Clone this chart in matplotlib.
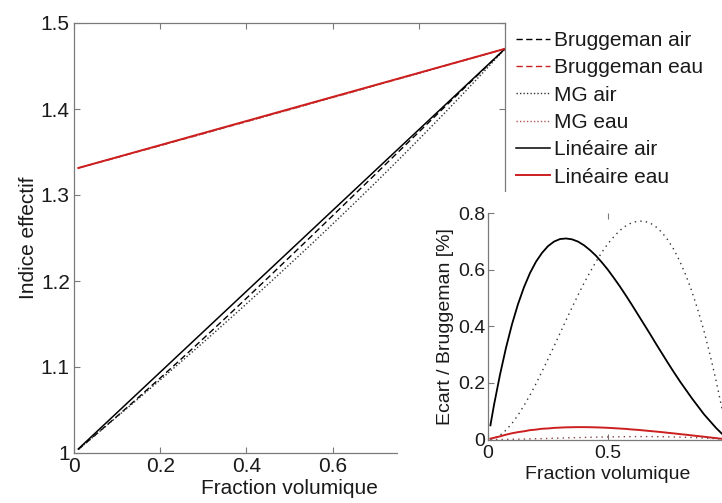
import matplotlib
matplotlib.use("Agg")
import matplotlib.pyplot as plt
from matplotlib.patches import Rectangle

plt.rcParams['font.family'] = ['Liberation Sans', 'DejaVu Sans']

# Volume fraction grid (main plot)
frac = [0.01, 0.05, 0.10, 0.15, 0.20, 0.25, 0.30, 0.35, 0.40, 0.45, 0.50,
        0.55, 0.60, 0.65, 0.70, 0.75, 0.80, 0.85, 0.90, 0.95, 1.00]

# Effective index (main plot)
bruggeman_air = [1.0042, 1.0212, 1.0428, 1.0648, 1.0872, 1.1099, 1.1330, 1.1563, 1.1799, 1.2037, 1.2277,
                 1.2517, 1.2759, 1.3002, 1.3245, 1.3489, 1.3732, 1.3975, 1.4217, 1.4459, 1.4700]
bruggeman_eau = [1.3314, 1.3369, 1.3437, 1.3506, 1.3575, 1.3645, 1.3714, 1.3784, 1.3854, 1.3924, 1.3994,
                 1.4065, 1.4135, 1.4205, 1.4276, 1.4347, 1.4417, 1.4488, 1.4559, 1.4629, 1.4700]
mg_air = [1.0042, 1.0210, 1.0422, 1.0635, 1.0850, 1.1068, 1.1287, 1.1509, 1.1734, 1.1961, 1.2192,
          1.2425, 1.2662, 1.2902, 1.3146, 1.3394, 1.3646, 1.3902, 1.4163, 1.4429, 1.4700]
mg_eau = [1.3314, 1.3369, 1.3437, 1.3506, 1.3574, 1.3643, 1.3712, 1.3782, 1.3852, 1.3921, 1.3991,
          1.4062, 1.4132, 1.4202, 1.4273, 1.4344, 1.4415, 1.4486, 1.4557, 1.4629, 1.4700]
lineaire_air = [1.0047, 1.0235, 1.0470, 1.0705, 1.0940, 1.1175, 1.1410, 1.1645, 1.1880, 1.2115, 1.2350,
                1.2585, 1.2820, 1.3055, 1.3290, 1.3525, 1.3760, 1.3995, 1.4230, 1.4465, 1.4700]
lineaire_eau = [1.3314, 1.3370, 1.3440, 1.3510, 1.3580, 1.3650, 1.3720, 1.3790, 1.3860, 1.3930, 1.4000,
                1.4070, 1.4140, 1.4210, 1.4280, 1.4350, 1.4420, 1.4490, 1.4560, 1.4630, 1.4700]

# Volume fraction grid (inset)
frac_in = [0.01, 0.025, 0.05, 0.075, 0.10, 0.125, 0.15, 0.175, 0.20, 0.225, 0.25, 0.275, 0.30, 0.325,
           0.35, 0.375, 0.40, 0.425, 0.45, 0.475, 0.50, 0.525, 0.55, 0.575, 0.60, 0.625, 0.65, 0.675,
           0.70, 0.725, 0.75, 0.775, 0.80, 0.825, 0.85, 0.875, 0.90, 0.925, 0.95, 0.975, 1.00]

# Deviation relative to Bruggeman [%] (inset)
ecart_lin_air = [0.050, 0.122, 0.229, 0.324, 0.407, 0.478, 0.538, 0.588, 0.628, 0.659, 0.683, 0.699,
                 0.708, 0.710, 0.707, 0.699, 0.686, 0.669, 0.649, 0.625, 0.599, 0.570, 0.540, 0.508,
                 0.475, 0.441, 0.407, 0.373, 0.338, 0.304, 0.270, 0.237, 0.205, 0.175, 0.145, 0.117,
                 0.089, 0.065, 0.041, 0.020, 0.000]
ecart_mg_air = [0.001, 0.004, 0.015, 0.033, 0.057, 0.086, 0.120, 0.157, 0.197, 0.240, 0.284, 0.329,
                0.375, 0.421, 0.466, 0.510, 0.552, 0.591, 0.628, 0.662, 0.692, 0.717, 0.739, 0.755,
                0.766, 0.771, 0.771, 0.765, 0.751, 0.731, 0.704, 0.670, 0.628, 0.579, 0.522, 0.456,
                0.383, 0.300, 0.209, 0.109, 0.000]
ecart_lin_eau = [0.003, 0.006, 0.011, 0.017, 0.022, 0.026, 0.029, 0.033, 0.035, 0.038, 0.039, 0.041,
                 0.042, 0.043, 0.0434, 0.0437, 0.0437, 0.0434, 0.0429, 0.0422, 0.0412, 0.040, 0.0386,
                 0.0374, 0.0354, 0.034, 0.0319, 0.030, 0.028, 0.026, 0.0236, 0.0215, 0.019, 0.0169,
                 0.0144, 0.0121, 0.0097, 0.0072, 0.0049, 0.0024, 0.000]
ecart_mg_eau = [0.0000, 0.0001, 0.0002, 0.0005, 0.0008, 0.0012, 0.0016, 0.0021, 0.0027, 0.0032, 0.0038,
                0.0044, 0.0050, 0.0056, 0.0062, 0.0068, 0.0074, 0.0079, 0.0084, 0.0088, 0.0092, 0.0095,
                0.0098, 0.0100, 0.0102, 0.0103, 0.0103, 0.0102, 0.0100, 0.0097, 0.0094, 0.0089, 0.0084,
                0.0077, 0.0070, 0.0061, 0.0051, 0.0040, 0.0028, 0.0015, 0.0000]

RED = '#cc1f1f'
SPINE = '#7a7a7a'
TXT = '#1a1a1a'

fig = plt.figure(figsize=(7.22, 5.03), dpi=100)

ax = fig.add_axes([74/722, 50/503, 431/722, 430/503], zorder=0)
dash = (0, (4.5, 2.5))
dot = (0, (1, 1.5))
ax.plot(frac, bruggeman_air, color='black', lw=1, linestyle=dash, label='Bruggeman air')
ax.plot(frac, bruggeman_eau, color=RED, lw=1, linestyle=dash, label='Bruggeman eau')
ax.plot(frac, mg_air, color='#333333', lw=1, linestyle=dot, label='MG air')
ax.plot(frac, mg_eau, color='#aa5555', lw=1, linestyle=dot, label='MG eau')
ax.plot(frac, lineaire_air, color='black', lw=1.1, label='Linéaire air')
ax.plot(frac, lineaire_eau, color=RED, lw=1.4, label='Linéaire eau')

ax.set_xlim(0, 1)
ax.set_ylim(1, 1.5)
ax.set_xticks([0, 0.2, 0.4, 0.6, 0.8, 1])
ax.set_xticklabels(['0', '0.2', '0.4', '0.6', '0.8', '1'])
ax.set_yticks([1, 1.1, 1.2, 1.3, 1.4, 1.5])
ax.set_yticklabels(['1', '1.1', '1.2', '1.3', '1.4', '1.5'])
ax.tick_params(direction='in', top=True, right=True, length=4, width=0.8,
               colors=SPINE, labelcolor=TXT, labelsize=15, pad=3)
for s in ax.spines.values():
    s.set_color(SPINE)
    s.set_linewidth(0.9)
ax.set_xlabel('Fraction volumique', fontsize=15, color=TXT, labelpad=2)
ax.set_ylabel('Indice effectif', fontsize=15, color=TXT, labelpad=2)

leg = ax.legend(loc='upper left', bbox_to_anchor=(516/722, 1 - 31/503),
                bbox_transform=fig.transFigure, frameon=False, fontsize=15,
                handlelength=1.65, handletextpad=0.15, labelspacing=0.40,
                borderpad=0, borderaxespad=0)
for t in leg.get_texts():
    t.set_color(TXT)

# white background under the inset
fig.patches.append(Rectangle((398/722, 0), 1 - 398/722, (503 - 192)/503,
                             transform=fig.transFigure, facecolor='white',
                             edgecolor='none', zorder=1))

ax2 = fig.add_axes([488/722, (503 - 439.5)/503, 240/722, 226.5/503], zorder=2)
ax2.patch.set_alpha(0)
ax2.plot(frac_in, ecart_lin_air, color='black', lw=1.3)
ax2.plot(frac_in, ecart_mg_air, color='#333333', lw=1, linestyle=(0, (1, 3)))
ax2.plot(frac_in, ecart_lin_eau, color=RED, lw=1.4)
ax2.plot(frac_in, ecart_mg_eau, color='#884444', lw=1, linestyle=(0, (1, 3)))
ax2.set_xlim(0, 1)
ax2.set_ylim(0, 0.8)
ax2.set_xticks([0, 0.5, 1])
ax2.set_xticklabels(['0', '0.5', '1'])
ax2.set_yticks([0, 0.2, 0.4, 0.6, 0.8])
ax2.set_yticklabels(['0', '0.2', '0.4', '0.6', '0.8'])
ax2.tick_params(direction='in', top=True, right=True, length=4, width=0.8,
                colors=SPINE, labelcolor=TXT, labelsize=14, pad=2)
ax2.tick_params(axis='x', pad=4)
for s in ax2.spines.values():
    s.set_color(SPINE)
    s.set_linewidth(0.9)
ax2.spines['top'].set_visible(False)
ax2.set_xlabel('Fraction volumique', fontsize=14, color=TXT, labelpad=3)
ax2.set_ylabel('Ecart / Bruggeman [%]', fontsize=14, color=TXT, labelpad=3)

fig.savefig('out.png', dpi=100)
